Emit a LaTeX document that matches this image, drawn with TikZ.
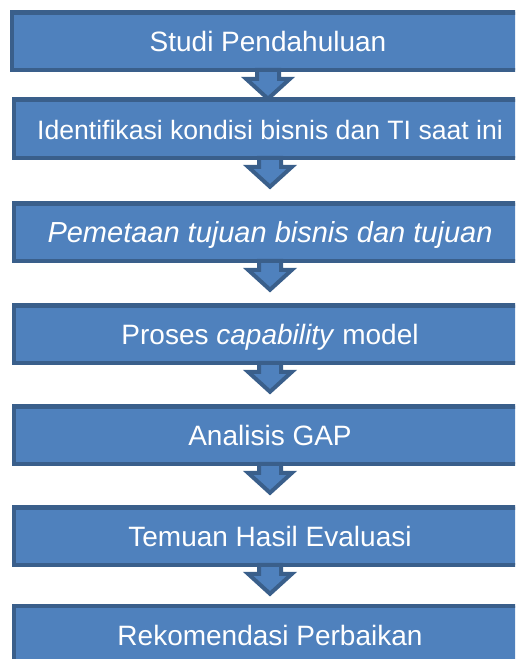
\documentclass[tikz,border=0pt]{standalone}
\usepackage{fontspec}
\setmainfont{Liberation Sans}
\usetikzlibrary{calc}
\definecolor{boxfill}{HTML}{4F81BD}
\definecolor{boxline}{HTML}{3A5F8B}
\newcommand\flowarrow[1]{%
  \draw[downarrow] ($(#1.south)+(-11,0)$) -- ($(#1.south)+(-11,9)$) -- ($(#1.south)+(-22,9)$)
    -- ($(#1.south)+(0,29)$) -- ($(#1.south)+(22,9)$) -- ($(#1.south)+(11,9)$)
    -- ($(#1.south)+(11,0)$) -- cycle;}
\begin{document}
\begin{tikzpicture}[x=1pt,y=-1pt,
  stepbox/.style={draw=boxline, fill=boxfill, line width=4.5pt, rectangle,
    minimum width=512pt, minimum height=57.5pt, inner sep=0pt, outer sep=0pt,
    text=white, font=\fontsize{28}{32}\selectfont, text height=21pt, text depth=0pt},
  downarrow/.style={draw=boxline, fill=boxfill, line width=4pt, line join=miter}]
\useasboundingbox (0,0) rectangle (515,659);
\clip (0,0) rectangle (515,659);
\node[stepbox] (b1) at (268,41) {Studi Pendahuluan};
\flowarrow{b1}
\node[stepbox, minimum height=58.5pt, font=\fontsize{26.6}{30}\selectfont] (b2) at (270,128.5) {Identifikasi kondisi bisnis dan TI saat ini};
\flowarrow{b2}
\node[stepbox, font=\fontsize{29}{32}\selectfont\itshape] (b3) at (270,232) {Pemetaan tujuan bisnis dan tujuan};
\flowarrow{b3}
\node[stepbox] (b4) at (270,334) {Proses \textit{capability} model};
\flowarrow{b4}
\node[stepbox] (b5) at (270,435) {Analisis GAP};
\flowarrow{b5}
\node[stepbox] (b6) at (270,536) {Temuan Hasil Evaluasi};
\flowarrow{b6}
\node[stepbox] (b7) at (270,634.5) {Rekomendasi Perbaikan};
\end{tikzpicture}
\end{document}
